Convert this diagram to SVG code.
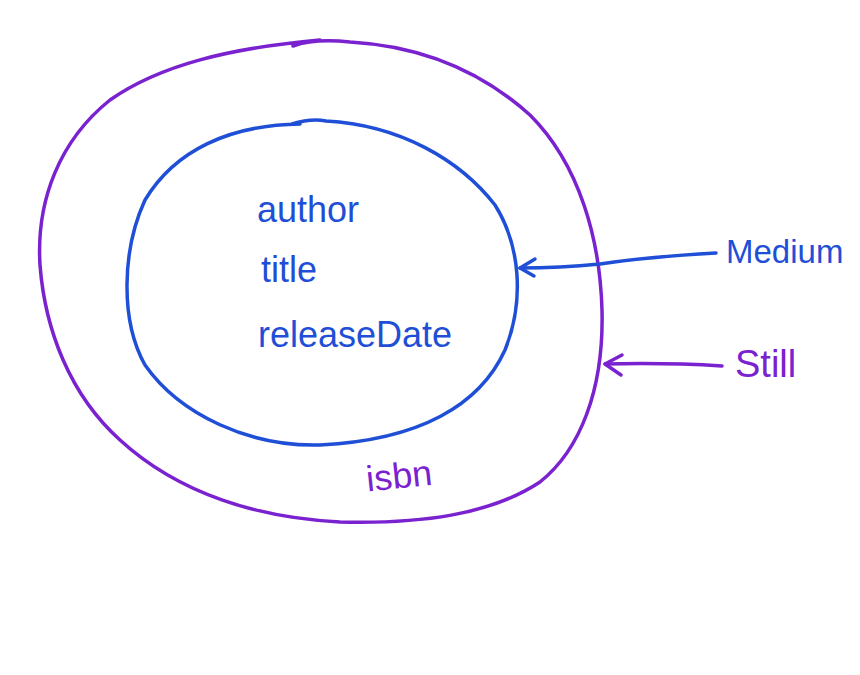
<svg xmlns="http://www.w3.org/2000/svg" width="860" height="675" viewBox="0 0 860 675">
<style>
.blue{stroke:#1f4fd6;fill:none;stroke-width:3.5;stroke-linecap:round;stroke-linejoin:round}
.purple{stroke:#7a22cf;fill:none;stroke-width:3.5;stroke-linecap:round;stroke-linejoin:round}
.tb{fill:#1f4fd6;font-family:"Liberation Sans",Arial,sans-serif;font-size:36px}
.tp{fill:#7a22cf;font-family:"Liberation Sans",Arial,sans-serif;font-size:36px}
</style>
<rect width="860" height="675" fill="#fff"/>
<g id="outer">
<path class="purple" d="M293,46 C310,40 330,40 350,42 C420,46 480,70 530,115 C580,165 600,240 602,310 C604,390 580,450 540,482 C490,515 420,524 340,522 C260,518 180,495 120,440 C70,395 45,330 40,265 C36,200 60,140 110,100 C160,65 230,48 320,40"/>
<text class="tp" x="366" y="488" transform="rotate(-6 400 475)">isbn</text>
</g>
<g id="inner">
<path class="blue" d="M292,124 C305,120 315,119 326,121 C400,125 460,160 495,205 C520,245 525,300 505,350 C480,405 420,440 320,445 C250,447 180,415 145,365 C120,320 122,250 145,200 C175,150 230,125 300,124"/>
<text class="tb" x="257" y="222">author</text>
<text class="tb" x="261" y="282">title</text>
<text class="tb" x="258" y="347">releaseDate</text>
</g>
<g id="medium">
<text class="tb" x="726" y="263" style="font-size:33px">Medium</text>
</g>
<g id="still">
<text class="tp" x="735" y="377" style="font-size:38px">Still</text>
</g>
<g id="connectors">
<path class="blue" d="M716,253 C680,255 640,258 600,264 C570,267 540,268 520,268"/>
<path class="blue" d="M535,259 L520,268 L534,276"/>
<path class="purple" d="M722,366 C690,364 650,363 605,364"/>
<path class="purple" d="M622,355 L605,364 L621,375"/>
</g>
</svg>
